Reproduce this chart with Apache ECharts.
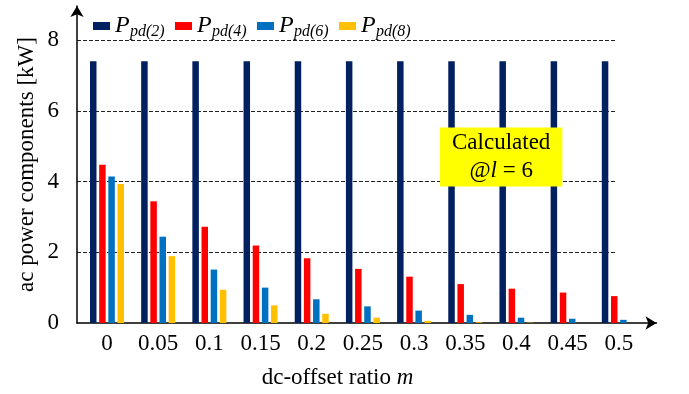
<!DOCTYPE html>
<html><head><meta charset="utf-8">
<script src="https://cdn.jsdelivr.net/npm/echarts@6/dist/echarts.min.js"></script>
<style>html,body{margin:0;padding:0;background:#fff}#c{width:689px;height:394px}</style>
</head><body><div id="c"></div>
<script>
var categories = ['0','0.05','0.1','0.15','0.2','0.25','0.3','0.35','0.4','0.45','0.5'];
var seriesNames = ['Ppd(2)','Ppd(4)','Ppd(6)','Ppd(8)'];
var subLabels = ['pd(2)','pd(4)','pd(6)','pd(8)'];
var p2 = [7.4, 7.4, 7.4, 7.4, 7.4, 7.4, 7.4, 7.4, 7.4, 7.4, 7.4];
var p4 = [4.47, 3.44, 2.72, 2.19, 1.83, 1.53, 1.31, 1.10, 0.97, 0.86, 0.76];
var p6 = [4.14, 2.44, 1.51, 1.00, 0.67, 0.47, 0.35, 0.23, 0.15, 0.12, 0.09];
var p8 = [3.93, 1.89, 0.94, 0.50, 0.26, 0.15, 0.06, 0.02, 0.01, 0, 0];
var yTicks = [0, 2, 4, 6, 8];
var colors = ['#002060', '#FF0000', '#0070C0', '#FFC000'];
var FF = 'Liberation Serif';

var chart = echarts.init(document.getElementById('c'), null, {renderer: 'canvas'});
var values = [p2, p4, p6, p8];
var series = values.map(function (v, i) {
  return {
    name: seriesNames[i], type: 'bar', xAxisIndex: 0, yAxisIndex: 0,
    data: v, barWidth: 6.5, barGap: '41%',
    itemStyle: {color: colors[i]}, animation: false
  };
});
chart.setOption({
  animation: false,
  color: colors,
  textStyle: {fontFamily: FF},
  title: {
    left: 440, top: 125,
    text: '{a|Calculated}\n{a|@}{b|l}{a| = 6}',
    backgroundColor: '#FFFF00',
    padding: [4, 12, 4, 12],
    textStyle: {
      fontWeight: 'normal',
      rich: {
        a: {fontFamily: FF, fontSize: 23, fontWeight: 'normal', color: '#000', lineHeight: 28, align: 'center'},
        b: {fontFamily: FF, fontSize: 23, fontWeight: 'normal', fontStyle: 'italic', color: '#000', lineHeight: 28}
      }
    }
  },
  legend: {
    left: 88, top: 9,
    itemWidth: 17, itemHeight: 8, itemGap: 8,
    icon: 'rect',
    data: seriesNames,
    formatter: function (name) {
      return '{p|P}{s|' + subLabels[seriesNames.indexOf(name)] + '}';
    },
    textStyle: {
      rich: {
        p: {fontFamily: FF, fontSize: 24, fontStyle: 'italic', color: '#000', lineHeight: 28, width: 15},
        s: {fontFamily: FF, fontSize: 16, fontStyle: 'italic', color: '#000', lineHeight: 28, width: 37, verticalAlign: 'bottom', padding: [10, 0, 0, 0]}
      }
    }
  },
  grid: [
    {left: 81.4, right: 44.6, top: 40, bottom: 71, outerBoundsMode: 'none', containLabel: false},
    {left: 77, right: 73, top: 40, bottom: 71, outerBoundsMode: 'none', containLabel: false},
    {left: 77, right: 32.5, top: 6, bottom: 71, outerBoundsMode: 'none', containLabel: false}
  ],
  xAxis: [
    {gridIndex: 0, type: 'category', data: categories,
     axisLine: {show: false}, axisTick: {show: false},
     axisLabel: {fontFamily: FF, fontSize: 23, color: '#000', margin: 9, interval: 0}},
    {gridIndex: 1, type: 'value', min: 0, max: 1,
     axisLine: {show: false}, axisTick: {show: false}, axisLabel: {show: false}, splitLine: {show: false},
     name: '{a|dc-offset ratio }{b|m}', nameLocation: 'middle', nameGap: 43,
     nameTextStyle: {padding: [0, 18, 0, 0], rich: {
       a: {fontFamily: FF, fontSize: 23, color: '#000'},
       b: {fontFamily: FF, fontSize: 23, color: '#000', fontStyle: 'italic'}}}},
    {gridIndex: 2, type: 'value', min: 0, max: 1,
     axisLine: {show: true, lineStyle: {color: '#000', width: 1.5}, symbol: ['none', 'arrow'], symbolSize: [10, 11]},
     axisTick: {show: false}, axisLabel: {show: false}, splitLine: {show: false}}
  ],
  yAxis: [
    {gridIndex: 0, type: 'value', min: 0, max: 8, interval: 2,
     axisLine: {show: false}, axisTick: {show: false}, axisLabel: {show: false}, splitLine: {show: false}},
    {gridIndex: 1, type: 'value', min: 0, max: 8, interval: 2,
     axisLine: {show: false}, axisTick: {show: false},
     axisLabel: {fontFamily: FF, fontSize: 23, color: '#000', margin: 18,
       formatter: function (v) { return yTicks.indexOf(v) >= 0 ? String(v) : ''; }},
     splitLine: {show: true, showMinLine: false, lineStyle: {color: '#222', type: [4, 2], width: 1}}},
    {gridIndex: 2, type: 'value', min: 0, max: 1,
     axisLine: {show: true, lineStyle: {color: '#000', width: 1.5}, symbol: ['none', 'arrow'], symbolSize: [10, 11]},
     axisTick: {show: false}, axisLabel: {show: false}, splitLine: {show: false},
     name: 'ac power components [kW]', nameLocation: 'middle', nameGap: 39,
     nameTextStyle: {fontFamily: FF, fontSize: 23, color: '#000'}}
  ],
  series: series
});
</script></body></html>
